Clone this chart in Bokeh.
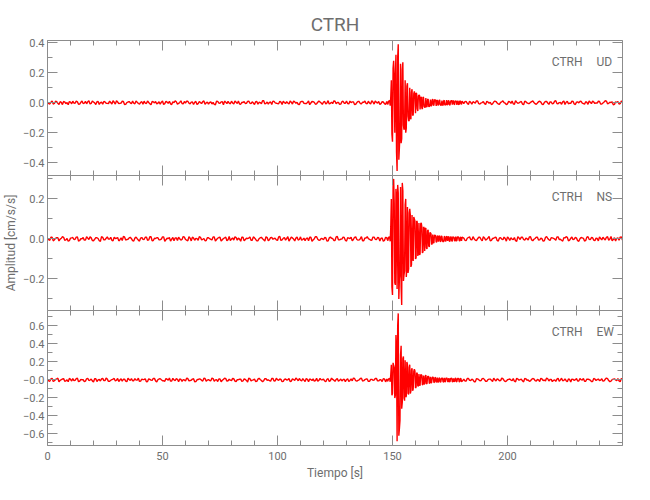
import numpy as np
from bokeh.plotting import figure
from bokeh.layouts import column
from bokeh.models import Range1d, FixedTicker, LinearAxis, Label
from bokeh.embed import file_html
from bokeh.resources import INLINE

# ---------------- data (amplitudes in thousandths of cm/s/s) ----------------
station = "CTRH"
components = ["UD", "NS", "EW"]
title_text = "CTRH"
x_label = "Tiempo [s]"
y_label = "Amplitud [cm/s/s]"

x_ticks = [0, 50, 100, 150, 200]
x_tick_labels = ["0", "50", "100", "150", "200"]
x_minor = [0, 10, 20, 30, 40, 50, 60, 70, 80, 90, 100, 110, 120, 130, 140, 150,
           160, 170, 180, 190, 200, 210, 220, 230, 240, 250]

ud_yticks = [-0.4, -0.2, 0.0, 0.2, 0.4]
ud_ylabels = ["\u22120.4", "\u22120.2", "0.0", "0.2", "0.4"]
ud_yminor = [-0.4, -0.3, -0.2, -0.1, 0.0, 0.1, 0.2, 0.3, 0.4]
ns_yticks = [-0.2, 0.0, 0.2]
ns_ylabels = ["\u22120.2", "0.0", "0.2"]
ns_yminor = [-0.3, -0.2, -0.1, 0.0, 0.1, 0.2, 0.3]
ew_yticks = [-0.6, -0.4, -0.2, 0.0, 0.2, 0.4, 0.6]
ew_ylabels = ["\u22120.6", "\u22120.4", "\u22120.2", "\u22120.0", "0.2", "0.4", "0.6"]
ew_yminor = [-0.7, -0.6, -0.5, -0.4, -0.3, -0.2, -0.1, 0.0, 0.1, 0.2, 0.3, 0.4, 0.5, 0.6, 0.7]

# samples: *_pre at whole seconds 0..147, *_pre2 at half seconds 0.5..146.5,
# *_evt every 0.5 s from 147.5 s, *_evt2 every 0.5 s from 147.75 s,
# *_post every 1 s after the event, *_post2 half a second later.
ud_pre = [3, -8, 12, -5, 7, -11, 2, 9, -6, -13, 4, 10, -3, 6, -9, 11, -2, -7, 13, -4,
          5, -12, 8, 1, -10, 6, -4, 11, -8, 3, 14, -6, -2, 9, -11, 5, -1, 12, -7, 4,
          -9, 7, 10, -5, 2, -13, 6, 8, -3, -10, 11, -6, 4, 9, -12, 1, 7, -4, 13, -8,
          -2, 10, -7, 5, 3, -11, 8, -5, 12, -1, -9, 6, 2, -13, 9, -4, 7, 11, -6, -3,
          10, -8, 4, 12, -10, 1, -5, 9, -2, 6, -12, 8, 3, -7, 13, -4, -9, 5, 11, -1,
          -6, 10, -11, 2, 7, -8, 4, 12, -3, -10, 6, 9, -5, 1, -13, 8, 3, -7, 11, -2,
          5, -9, 14, -4, -6, 10, 2, -11, 7, -3, 12, -8, 1, 6, -10, 9, -5, 4, 11, -7,
          -2, 13, -9, 3, 8, -6, 5, -12]
ud_pre2 = [-6, 4, -9, 10, -3, 7, -12, 5, 1, 8, -7, -2, 11, -10, 3, -5, 9, 6, -8, 12,
           -1, 7, -11, 4, 9, -3, -6, 2, 13, -9, 5, -4, 10, -12, 1, 8, -7, -3, 11, -5,
           3, -10, -2, 12, -6, 9, -1, -8, 7, 4, -11, 10, -4, -7, 6, 13, -9, 2, -5, 8,
           11, -3, 4, -12, 9, -6, 1, 7, -10, 5, 3, -8, -11, 10, -2, 6, -13, 4, 9, -7,
           -1, 12, -5, -9, 3, 8, -4, 11, -6, -2, 7, -10, 1, 13, -8, 5, 2, -12, 9, -3,
           -7, 4, 10, -5, -1, 11, -9, 6, 2, -13, 8, -4, -6, 12, -2, 7, -10, 3, 5, -11,
           9, -1, -8, 4, 13, -6, 2, -9, 10, -3, -5, 11, 6, -12, 1, 8, -7, 3, -4, 10,
           -9, 5, 12, -2, -11, 7, -6]
ud_evt = [8, -10, 12, -20, 150, -260, 280, -200, 320, -455,
          390, -300, 260, -240, 270, -180, 150, -170, 130, -120,
          100, -110, 90, -80, 75, -70, 60, -55, 50, -45,
          40, -42, 35, -30, 32, -28, 25, -26, 22, -20,
          24, -18, 20, -22, 18, -16, 19, -17, 15, -18,
          16, -14, 17, -15, 13, -16, 14, -12, 15, -13,
          11, -14, 12, -11, 13, -10]
ud_evt2 = [-5, 9, 14, 40, -210, 230, 150, 180, -330, 300,
           -380, -200, -270, 220, -150, -160, -200, 110, -90, -120,
           -95, 70, -85, 60, 55, 65, -40, 45, 50, 30,
           -35, 38, -25, -30, -26, 20, -24, -19, -21, 17,
           -15, 19, 17, 14, -16, 15, -12, -16, -14, 12,
           -15, -13, -11, 14, -12, 10, 13, 11, -9, 12,
           10, 9, -12, 10, -8, 11]
ud_post = [-5, 9, -11, 3, 7, -2, 12, -8, 1, -6, 10, -4, -12, 5, 8, -9, 2, 13, -3, -7,
           6, 11, -10, 4, -1, 9, -13, 7, -5, 3, 12, -6, -2, 10, -9, 1, 8, -11, 5, -4,
           14, -7, 2, 6, -12, 9, -3, 11, -8, 4, -1, 10, -6, 7, -10, 3, 12, -5, -2, 8,
           -9, 5, 11, -4, 1, -13, 7, 9, -6, 3, -8, 6]
ud_post2 = [7, -4, 10, -9, 2, 12, -6, -1, 8, -11, 5, 3, -8, 11, -2, -10, 6, 1, -12, 9,
            -4, -7, 13, -3, 5, -9, 10, -1, -6, 8, 2, -11, 7, 4, -13, 9, -2, 6, -8, 11,
            -5, 1, -10, 12, 3, -7, -4, 9, -12, 6, 8, -3, -9, 2, 11, -6, 5, -1, 10, -8,
            -2, 13, -7, 4, 6, -11, 1, -9, 12, -3, 7, -5]

ns_pre = [2, -7, 9, -4, 6, -10, 3, 8, -5, -11, 4, 7, -2, 10, -8, 1, -6, 11, -3, 5,
          -9, 6, 2, -12, 8, -4, 10, -1, -7, 9, 3, -10, 5, 12, -6, -2, 8, -9, 4, 1,
          -11, 7, -3, 9, -5, 11, -8, 2, 6, -4, 10, -12, 3, 7, -1, -9, 5, 8, -6, 12,
          -3, -10, 4, 9, -7, 1, 11, -5, 2, -8, 6, -2, 10, -11, 3, 8, -4, 5, -9, 12,
          -1, -6, 7, 4, -12, 9, -3, 2, 10, -7, 5, -10, 1, 8, -4, 11, -9, 6, -2, 3,
          -8, 12, -5, 7, 2, -11, 9, -1, 4, -6, 10, -3, -9, 5, 8, -12, 1, 11, -7, 3,
          -4, 6, -10, 9, 2, -8, 12, -5, -1, 7, -11, 4, 8, -3, 10, -6, 1, -9, 5, 11,
          -2, -7, 9, -4, 6, 3, -12, 8]
ns_pre2 = [-4, 8, -10, 3, 6, -1, 11, -7, 2, -9, 5, -3, 9, -11, 1, 7, -6, 4, 10, -8,
           -2, 6, -9, 11, -5, 3, -1, 8, -10, 2, 7, -4, -8, 10, -3, 5, 1, -11, 9, -6,
           4, -2, 8, -7, 11, -9, 3, 6, -5, -1, 10, -4, 2, -11, 7, 5, -8, 1, -3, 9,
           -6, 11, -10, 4, 3, -7, 8, -2, -9, 6, 1, -5, 10, -3, 7, -11, 2, 9, -4, -8,
           5, 11, -6, -1, 8, -10, 3, 4, -7, 10, -2, -9, 6, 1, -11, 7, -4, 8, 2, -5,
           10, -8, 3, -6, 11, -1, 5, -10, 9, -3, -7, 4, 2, -9, 8, -5, 11, -2, -6, 1,
           7, -11, 5, 3, -8, 10, -4, -1, 9, -7, 6, 2, -10, 8, -3, -5, 11, -9, 4, 1,
           -6, 9, -2, 7, -11, 5, -8]
ns_evt = [6, -8, 10, -12, 200, -280, 300, -220, 250, -250,
          230, -200, 260, -330, 240, -180, 170, -190, 160, -150,
          150, -140, 120, -110, 100, -100, 90, -85, 80, -75,
          80, -70, 60, -60, 55, -50, 45, -40, 30, -28,
          22, -20, 18, -16, 15, -14, 16, -13, 12, -14,
          11, -12, 13, -10, 12, -11, 10, -12, 9, -10,
          11, -9, 10, -8, 9, -10]
ns_evt2 = [-4, 7, 9, 60, -240, 260, 180, -230, 210, 270,
           -300, -170, -240, 280, -210, -160, 200, -140, -170, 130,
           120, -130, -100, 110, 90, -95, 85, -70, -80, 75,
           60, -65, 55, 50, -45, 40, -35, 32, 25, -24,
           -20, 18, 16, -15, 14, 13, -12, 15, -11, -13,
           12, -10, 11, 9, -12, 10, -9, 11, 8, -10,
           -9, 10, 8, -11, 7, 9]
ns_post = [4, -9, 7, -3, 11, -6, 1, 8, -10, 5, -2, 12, -7, 3, 9, -11, 6, -4, 2, 10,
           -8, -1, 7, -12, 5, 9, -3, 4, -6, 11, -9, 2, 8, -5, 1, -10, 12, -4, 6, 3,
           -7, 10, -2, -11, 5, 8, -6, 9, -1, 4, -12, 7, 3, -8, 11, -4, 6, -9, 2, 10,
           -5, 1, 8, -7, 12, -3, -10, 5, 9, -6, 3, -2]
ns_post2 = [-7, 3, 10, -5, 1, -9, 8, -2, 11, -6, 4, -10, 2, 7, -8, 5, -1, 9, -11, 3,
            6, -4, -9, 11, -3, 8, -7, 1, 10, -5, -2, 9, -6, 4, -11, 7, 2, -8, 5, -1,
            10, -3, -7, 6, 11, -10, 3, -4, 8, -9, 1, 5, -11, 9, -2, 7, -6, 4, -10, 2,
            8, -5, 11, -1, -9, 6, 3, -7, 10, -4, -8, 5]

ew_pre = [5, -14, 18, -8, 11, -20, 3, 16, -10, -19, 7, 15, -4, 21, -12, 2, -17, 13, -6, 9,
          -22, 14, 1, -11, 19, -7, 10, -15, 4, 17, -3, -18, 12, 8, -13, 20, -5, -9, 16, -1,
          -16, 11, 6, -21, 13, -2, 18, -10, 3, 15, -8, -14, 9, 22, -11, 0, 14, -19, 7, 4,
          -12, 17, -6, 10, -20, 2, 12, -4, 19, -15, 5, -9, 16, 1, -17, 11, -3, 21, -13, 8,
          -7, 14, -18, 3, 10, -11, 6, -22, 15, -2, 9, -16, 20, -5, -8, 13, 2, -14, 18, -10,
          4, 11, -19, 7, -1, 16, -12, 5, 22, -9, -3, 15, -17, 8, 12, -6, -13, 19, -4, 1,
          10, -20, 14, -7, 6, -15, 17, -2, -11, 9, 3, -18, 13, 21, -8, -5, 16, -12, 4, 11,
          -16, 7, -1, 18, -10, 2, 14, -21]
ew_pre2 = [-9, 13, -17, 6, 20, -4, 11, -15, 2, 18, -12, -6, 16, -20, 8, 3, -13, 19, -1, -10,
           14, -18, 5, 12, -7, 21, -16, -3, 9, -11, 17, 1, -14, 10, -19, 6, 15, -8, -2, 20,
           -12, 4, 13, -17, 7, -5, 18, -21, 11, 2, -9, 16, -3, -13, 19, -6, 8, 12, -15, 1,
           20, -10, -4, 14, -18, 5, 9, -12, 17, -1, -7, 21, -14, 3, 11, -20, 6, 15, -9, -2,
           18, -13, 4, 8, -16, 12, -5, 19, -11, 1, -17, 10, 6, -19, 14, -3, -8, 16, -12, 20,
           -4, 7, -15, 11, 2, -18, 13, -6, 9, 17, -10, -1, 15, -20, 5, 12, -7, -14, 18, 3,
           -11, 8, -16, 21, -2, 6, -13, 10, 4, -19, 14, -5, -9, 17, -12, 1, 19, -8, 11, -15,
           7, -3, 16, -10, 2, -18, 12]
ew_evt = [10, -12, 15, -20, 170, -150, 160, -200, 500, -680,
          740, -540, 280, -320, 240, -200, 220, -180, 170, -160,
          170, -120, 130, -100, 120, -90, 80, -70, 65, -60,
          60, -55, 50, -45, 55, -40, 42, -38, 35, -30,
          32, -28, 30, -25, 27, -24, 22, -25, 20, -22,
          24, -20, 21, -18, 20, -22, 18, -20, 17, -19,
          21, -18, 16, -20, 18, -17]
ew_evt2 = [-8, 13, 18, 60, -170, 190, 140, -170, 350, 600,
           -620, -450, 380, -250, 260, -230, -190, 200, -150, 140,
           -150, 110, -120, 95, 100, -80, 75, -65, -60, 55,
           50, -48, -45, 40, -42, 35, 36, -32, -30, 27,
           26, -25, 23, -22, -24, 20, -21, 18, 19, -20,
           -18, 21, 17, -19, -16, 18, 20, -17, -15, 18,
           -19, 16, 17, -18, 15, -16]
ew_post = [8, -13, 17, -5, 2, -19, 12, -9, 15, 4, -16, 10, -2, 20, -11, 6, -7, 14, -18, 3,
           11, -6, -14, 19, -3, 9, -21, 13, 1, -10, 16, -8, 5, -17, 12, -1, 22, -12, 7, -4,
           -15, 18, 2, -9, 13, -20, 6, 10, -5, 15, -11, 3, 17, -14, 8, -2, -18, 11, 4, -7,
           14, -10, 21, -6, -13, 9, 1, 16, -19, 5, -3, 12]
ew_post2 = [-11, 16, -4, 9, -19, 13, 2, -7, 18, -14, 5, 10, -17, 3, 12, -8, 21, -5, -13, 7,
            -1, 15, -20, 11, 4, -9, 17, -3, -16, 8, 13, -12, 1, 19, -6, -10, 14, 6, -18, 2,
            10, -15, 20, -4, -8, 12, -21, 7, 3, -11, 16, -2, -14, 9, 5, -17, 18, -6, 11, -1,
            -13, 8, 15, -19, 4, 12, -7, -10, 17, -3, 6, -9]

# ---------------- styling ----------------
FONT = "Roboto"
AX = "#8c8c8c"
TXT = "#6e6e6e"
LEFT = 40
FRAME_W = 575
FRAME_H = 135

x_range = Range1d(0, 250)


def build_trace(pre, pre2, evt, evt2, post, post2):
    t_pre = np.arange(len(pre), dtype=float)
    t_pre2 = 0.5 + np.arange(len(pre2), dtype=float)
    t0 = t_pre[-1] + 0.5
    t_evt = t0 + 0.5 * np.arange(len(evt))
    t_evt2 = t0 + 0.25 + 0.5 * np.arange(len(evt2))
    t1 = t_evt[-1] + 1.0
    t_post = t1 + np.arange(len(post), dtype=float)
    t_post2 = t1 + 0.5 + np.arange(len(post2), dtype=float)
    t = np.concatenate([t_pre, t_pre2, t_evt, t_evt2, t_post, t_post2])
    v = np.concatenate([pre, pre2, evt, evt2, post, post2]).astype(float) / 1000.0
    order = np.argsort(t, kind="stable")
    return t[order], v[order]


def style_axis(ax, show_labels, size="11px"):
    ax.axis_line_color = AX
    ax.major_tick_line_color = AX
    ax.minor_tick_line_color = AX
    ax.major_tick_in = 10
    ax.major_tick_out = 0
    ax.minor_tick_in = 5
    ax.minor_tick_out = 0
    ax.major_label_text_color = TXT if show_labels else None
    ax.major_label_text_font = FONT
    ax.major_label_text_font_size = size if show_labels else "0px"
    ax.major_label_standoff = 4 if show_labels else 0
    ax.axis_label_text_font = FONT
    ax.axis_label_text_color = TXT
    ax.axis_label_text_font_style = "normal"
    ax.axis_label_text_font_size = "12px"


def make_panel(comp, series, yr, yticks, ylabels, yminor,
               top_border, bottom_border, show_x, ylab, bottom_line):
    p = figure(frame_width=FRAME_W, frame_height=FRAME_H,
               x_range=x_range, y_range=Range1d(*yr),
               output_backend="svg", toolbar_location=None,
               x_axis_location=None, y_axis_location=None,
               min_border_left=LEFT, min_border_right=4,
               min_border_top=top_border, min_border_bottom=bottom_border)
    p.xgrid.visible = False
    p.ygrid.visible = False
    p.outline_line_color = None
    p.background_fill_color = "white"
    p.border_fill_color = "white"

    xt = FixedTicker(ticks=x_ticks, minor_ticks=x_minor)
    yt = FixedTicker(ticks=yticks, minor_ticks=yminor)

    bottom = LinearAxis(ticker=xt)
    style_axis(bottom, show_x)
    bottom.major_label_overrides = dict(zip(x_ticks, x_tick_labels))
    if show_x:
        bottom.axis_label = x_label
        bottom.axis_label_standoff = 3
        bottom.major_label_standoff = 6
    if not bottom_line:
        bottom.axis_line_color = None
    p.add_layout(bottom, "below")

    top = LinearAxis(ticker=xt)
    style_axis(top, False)
    p.add_layout(top, "above")

    left = LinearAxis(ticker=yt)
    style_axis(left, True)
    left.major_label_overrides = dict(zip(yticks, ylabels))
    left.major_label_standoff = 3
    left.axis_label = ylab
    left.axis_label_standoff = 2
    p.add_layout(left, "left")

    right = LinearAxis(ticker=yt)
    style_axis(right, False)
    p.add_layout(right, "right")

    t, y = build_trace(*series)
    p.line(t, y, line_color="red", line_width=1.4)

    p.add_layout(Label(x=535, y=FRAME_H - 21, x_units="screen", y_units="screen",
                       text=station, text_align="right", text_baseline="middle",
                       text_font=FONT, text_font_size="12px", text_color=TXT))
    p.add_layout(Label(x=549, y=FRAME_H - 21, x_units="screen", y_units="screen",
                       text=comp, text_align="left", text_baseline="middle",
                       text_font=FONT, text_font_size="12px", text_color=TXT))
    return p


p1 = make_panel(components[0], (ud_pre, ud_pre2, ud_evt, ud_evt2, ud_post, ud_post2),
                (-0.485, 0.415), ud_yticks, ud_ylabels, ud_yminor, 40, 0, False, " ", False)
p1.title.text = title_text
p1.title.align = "center"
p1.title.text_font = FONT
p1.title.text_font_size = "19px"
p1.title.text_font_style = "normal"
p1.title.text_color = TXT
p1.title.standoff = 9

p2 = make_panel(components[1], (ns_pre, ns_pre2, ns_evt, ns_evt2, ns_post, ns_post2),
                (-0.358, 0.317), ns_yticks, ns_ylabels, ns_yminor, 0, 0, False, y_label, False)
p3 = make_panel(components[2], (ew_pre, ew_pre2, ew_evt, ew_evt2, ew_post, ew_post2),
                (-0.728, 0.772), ew_yticks, ew_ylabels, ew_yminor, 0, 45, True, " ", True)

layout = column(p1, p2, p3, spacing=0)
open("out.html", "w").write(file_html(layout, INLINE))
